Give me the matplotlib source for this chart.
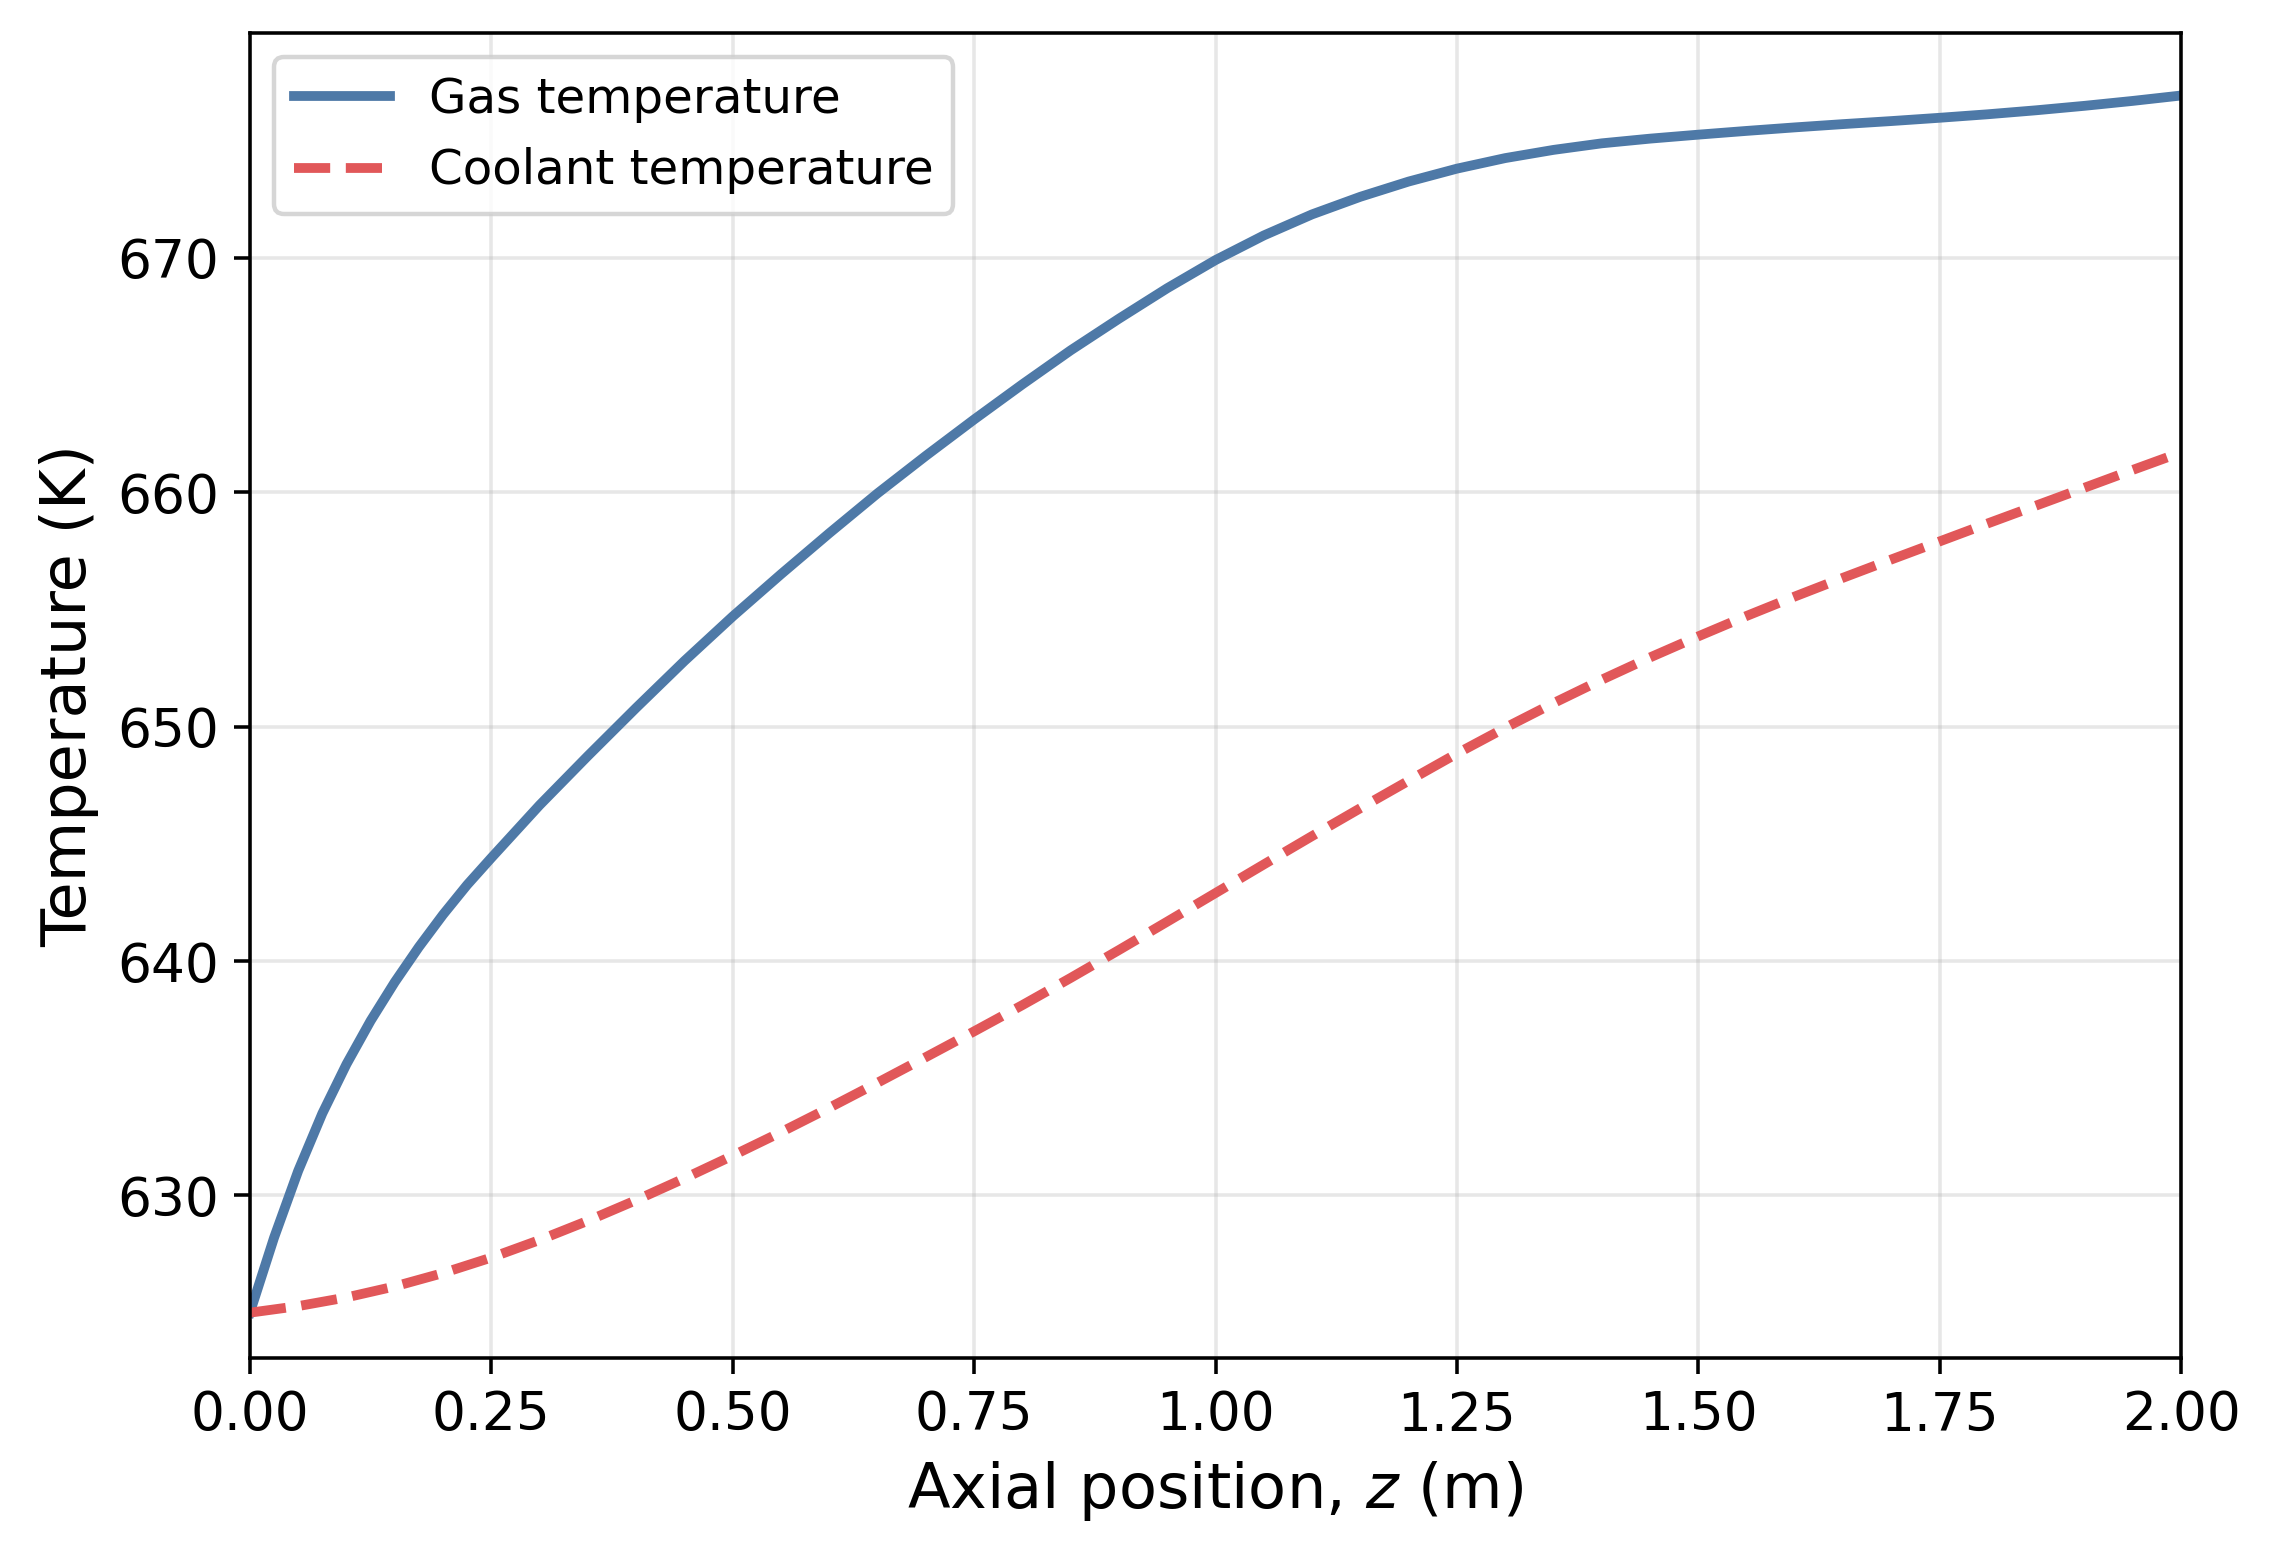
import matplotlib
matplotlib.use("Agg")
import matplotlib.pyplot as plt

# axial positions (m) and temperatures (K)
gas_z = [0.0, 0.025, 0.05, 0.075, 0.10, 0.125, 0.15, 0.175, 0.20, 0.225,
         0.25, 0.30, 0.35, 0.40, 0.45, 0.50, 0.55, 0.60, 0.65, 0.70, 0.75,
         0.80, 0.85, 0.90, 0.95, 1.00, 1.05, 1.10, 1.15, 1.20, 1.25, 1.30,
         1.35, 1.40, 1.45, 1.50, 1.55, 1.60, 1.65, 1.70, 1.75, 1.80, 1.85,
         1.90, 1.95, 2.00]
gas_T = [625.0, 628.2, 631.05, 633.5, 635.6, 637.45, 639.1, 640.6, 641.98,
         643.25, 644.4, 646.65, 648.75, 650.8, 652.8, 654.7, 656.5, 658.25,
         659.95, 661.55, 663.1, 664.6, 666.05, 667.4, 668.7, 669.9, 670.95,
         671.85, 672.6, 673.25, 673.8, 674.25, 674.6, 674.88, 675.08, 675.25,
         675.41, 675.56, 675.70, 675.83, 675.97, 676.12, 676.29, 676.48,
         676.69, 676.92]

coolant_z = [0.0, 0.05, 0.10, 0.15, 0.20, 0.25, 0.30, 0.35, 0.40, 0.45,
             0.50, 0.55, 0.60, 0.65, 0.70, 0.75, 0.80, 0.85, 0.90, 0.95,
             1.00, 1.05, 1.10, 1.15, 1.20, 1.25, 1.30, 1.35, 1.40, 1.45,
             1.50, 1.55, 1.60, 1.65, 1.70, 1.75, 1.80, 1.85, 1.90, 1.95, 2.00]
coolant_T = [625.0, 625.28, 625.65, 626.12, 626.69, 627.35, 628.10, 628.92,
             629.80, 630.73, 631.70, 632.70, 633.74, 634.81, 635.90, 637.00,
             638.12, 639.28, 640.47, 641.68, 642.90, 644.12, 645.33, 646.52,
             647.69, 648.85, 649.95, 651.00, 652.00, 652.95, 653.85, 654.72,
             655.55, 656.35, 657.13, 657.90, 658.67, 659.43, 660.19, 660.95,
             661.70]

fig, ax = plt.subplots(figsize=(7.1, 4.8625), dpi=320)
fig.subplots_adjust(left=0.110, right=0.960, top=0.979, bottom=0.127)

ax.plot(gas_z, gas_T, color="#4e79a7", lw=2.2, label="Gas temperature")
ax.plot(coolant_z, coolant_T, color="#e15759", lw=2.2, ls="--",
        label="Coolant temperature")

ax.set_xlim(0, 2)
ax.set_ylim(623.05, 679.6)
ax.set_xticks([0.0, 0.25, 0.5, 0.75, 1.0, 1.25, 1.5, 1.75, 2.0])
ax.set_yticks([630, 640, 650, 660, 670])
ax.tick_params(labelsize=12)
ax.set_xlabel("Axial position, $z$ (m)", fontsize=14)
ax.set_ylabel("Temperature (K)", fontsize=14)
ax.grid(True, alpha=0.3)
ax.legend(loc="upper left", fontsize=10.9)

plt.savefig("out.png", dpi=320)
